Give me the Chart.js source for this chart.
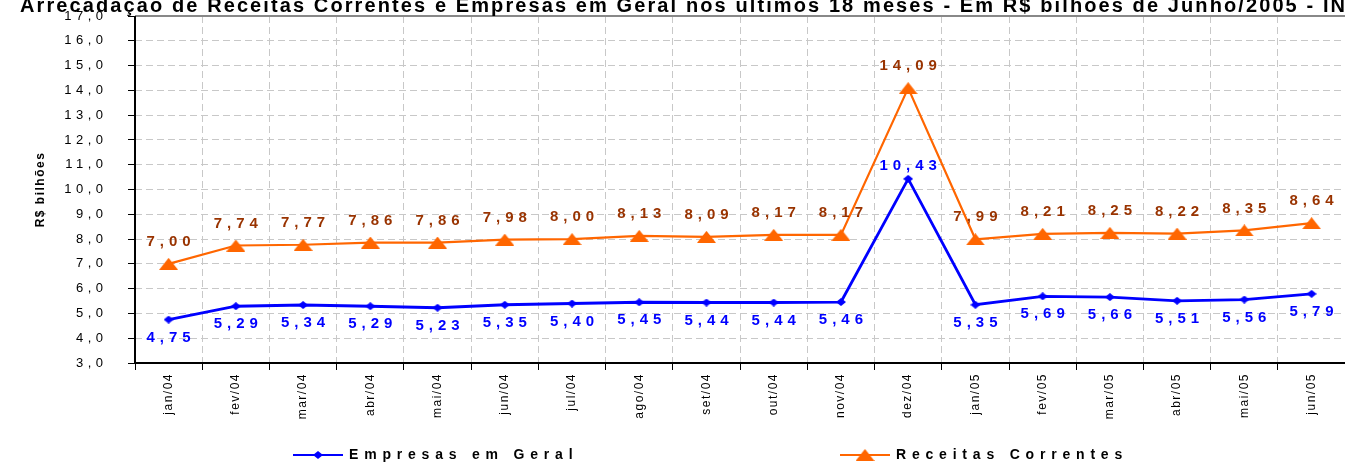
<!DOCTYPE html>
<html>
<head>
<meta charset="utf-8">
<script src="https://cdn.jsdelivr.net/npm/chart.js@4.4.0/dist/chart.umd.min.js"></script>
<style>
body { margin: 0; overflow: hidden; background: #fff; }
</style>
</head>
<body>
<canvas id="grafico" width="1352" height="462"></canvas>
<script>
var meses = ['jan/04', 'fev/04', 'mar/04', 'abr/04', 'mai/04', 'jun/04', 'jul/04', 'ago/04', 'set/04',
             'out/04', 'nov/04', 'dez/04', 'jan/05', 'fev/05', 'mar/05', 'abr/05', 'mai/05', 'jun/05'];
var empresas = [4.75, 5.29, 5.34, 5.29, 5.23, 5.35, 5.40, 5.45, 5.44, 5.44, 5.46, 10.43, 5.35, 5.69, 5.66, 5.51, 5.56, 5.79];
var receitas = [7.00, 7.74, 7.77, 7.86, 7.86, 7.98, 8.00, 8.13, 8.09, 8.17, 8.17, 14.09, 7.99, 8.21, 8.25, 8.22, 8.35, 8.64];
var nomes = ['Empresas em Geral', 'Receitas Correntes'];
var titulo = 'Arrecadação de Receitas Correntes e Empresas em Geral nos últimos 18 meses - Em R$ bilhões de Junho/2005 - INPC';
var tituloY = 'R$ bilhões';

var fonte = '"Liberation Sans", Arial, sans-serif';

function numBr(v, casas) {
  return v.toFixed(casas).replace('.', ',');
}

// marcadores desenhados num canvas pequeno (triangulo achatado e losango)
function marcador(tipo, cor) {
  var c = document.createElement('canvas');
  var g;
  if (tipo == 'tri') {
    c.width = 19; c.height = 12;
    g = c.getContext('2d');
    g.fillStyle = cor;
    g.beginPath();
    g.moveTo(0, 12); g.lineTo(9.5, 0); g.lineTo(19, 12);
    g.closePath(); g.fill();
  } else {
    c.width = 10; c.height = 8;
    g = c.getContext('2d');
    g.fillStyle = cor;
    g.beginPath();
    g.moveTo(0, 4); g.lineTo(5, 0); g.lineTo(10, 4); g.lineTo(5, 8);
    g.closePath(); g.fill();
  }
  return c;
}

var marcaAzul = marcador('losango', '#0000ff');
var marcaLaranja = marcador('tri', '#ff6600');

var extras = {
  id: 'extras',
  beforeDraw: function(chart) {
    chart.ctx.letterSpacing = '1.5px';
  },
  afterDatasetsDraw: function(chart) {
    var ctx = chart.ctx;
    var area = chart.chartArea;
    ctx.save();
    // eixos
    ctx.strokeStyle = '#888';
    ctx.lineWidth = 2;
    ctx.beginPath();
    ctx.moveTo(area.left, area.top); ctx.lineTo(area.right + 2, area.top);
    ctx.stroke();
    ctx.strokeStyle = '#000';
    ctx.beginPath();
    ctx.moveTo(area.left, area.top); ctx.lineTo(area.left, area.bottom + 1);
    ctx.moveTo(area.left - 1, area.bottom); ctx.lineTo(area.right + 2, area.bottom);
    ctx.stroke();

    // rotulos do eixo y
    var y = chart.scales.y;
    ctx.font = '13px ' + fonte;
    ctx.letterSpacing = '4.5px';
    ctx.fillStyle = '#000';
    ctx.textAlign = 'right';
    ctx.textBaseline = 'middle';
    y.ticks.forEach(function(t) {
      ctx.fillText(numBr(t.value, 1), area.left - 27.5, y.getPixelForValue(t.value));
    });

    // valores dos pontos
    ctx.font = 'bold 15px ' + fonte;
    ctx.letterSpacing = '5px';
    ctx.textAlign = 'center';
    chart.data.datasets.forEach(function(ds, i) {
      var meta = chart.getDatasetMeta(i);
      var maximo = Math.max.apply(null, ds.data);
      ctx.fillStyle = ds.corRotulo;
      meta.data.forEach(function(pt, j) {
        var v = ds.data[j];
        var dy;
        if (i == 1) dy = -22;
        else dy = (v == maximo) ? -13 : 18;
        ctx.fillText(numBr(v, 2), pt.x + 2.5, pt.y + dy);
      });
    });
    ctx.restore();
  },
  afterDraw: function(chart) {
    var ctx = chart.ctx;
    ctx.save();
    ctx.letterSpacing = '2.1px';
    ctx.font = 'bold 20px ' + fonte;
    ctx.fillStyle = '#000';
    ctx.textAlign = 'left';
    ctx.textBaseline = 'alphabetic';
    ctx.fillText(titulo, 20, 12);

    // legenda
    var itens = [{ x: 293, ds: 0, img: marcaAzul }, { x: 840, ds: 1, img: marcaLaranja }];
    ctx.font = 'bold 14px ' + fonte;
    ctx.letterSpacing = '5.8px';
    ctx.textBaseline = 'middle';
    itens.forEach(function(it) {
      var ds = chart.data.datasets[it.ds];
      ctx.strokeStyle = ds.borderColor;
      ctx.lineWidth = 2;
      ctx.beginPath();
      ctx.moveTo(it.x, 455); ctx.lineTo(it.x + 50, 455);
      ctx.stroke();
      ctx.drawImage(it.img, it.x + 25 - it.img.width / 2, 455 - it.img.height / 2);
      ctx.fillStyle = '#000';
      ctx.fillText(ds.label, it.x + 56, 455);
    });
    ctx.restore();
  }
};

var ctx = document.getElementById('grafico').getContext('2d');
var grafico = new Chart(ctx, {
  type: 'line',
  data: {
    labels: meses,
    datasets: [
      {
        label: nomes[0],
        data: empresas,
        borderColor: '#0000ff',
        backgroundColor: '#0000ff',
        borderWidth: 2.8,
        pointStyle: marcaAzul,
        corRotulo: '#0000ff',
        tension: 0
      },
      {
        label: nomes[1],
        data: receitas,
        borderColor: '#ff6600',
        backgroundColor: '#ff6600',
        borderWidth: 2.2,
        pointStyle: marcaLaranja,
        corRotulo: '#993300',
        tension: 0
      }
    ]
  },
  options: {
    responsive: false,
    animation: false,
    devicePixelRatio: 1,
    layout: { padding: { top: 16, right: 2, left: 0, bottom: 0 } },
    plugins: {
      legend: { display: false },
      tooltip: { enabled: false }
    },
    scales: {
      x: {
        offset: true,
        grid: { color: '#c8c8c8', tickColor: '#000', tickLength: 7, offset: true },
        border: { display: false, dash: [7, 4] },
        ticks: {
          autoSkip: false,
          maxRotation: 90,
          minRotation: 90,
          padding: 3,
          color: '#000',
          font: { size: 12, family: fonte }
        },
        afterFit: function(s) { s.height = 99; }
      },
      y: {
        min: 3,
        max: 17,
        grid: { color: '#c8c8c8', tickColor: '#000', tickLength: 7 },
        border: { display: false, dash: [7, 4] },
        ticks: { stepSize: 1, display: false },
        title: {
          display: true,
          text: tituloY,
          color: '#000',
          font: { size: 12, weight: 'bold', family: fonte },
          padding: { top: 33, bottom: 0 }
        },
        afterFit: function(s) { s.width = 135; }
      }
    }
  },
  plugins: [extras]
});
</script>
</body>
</html>
